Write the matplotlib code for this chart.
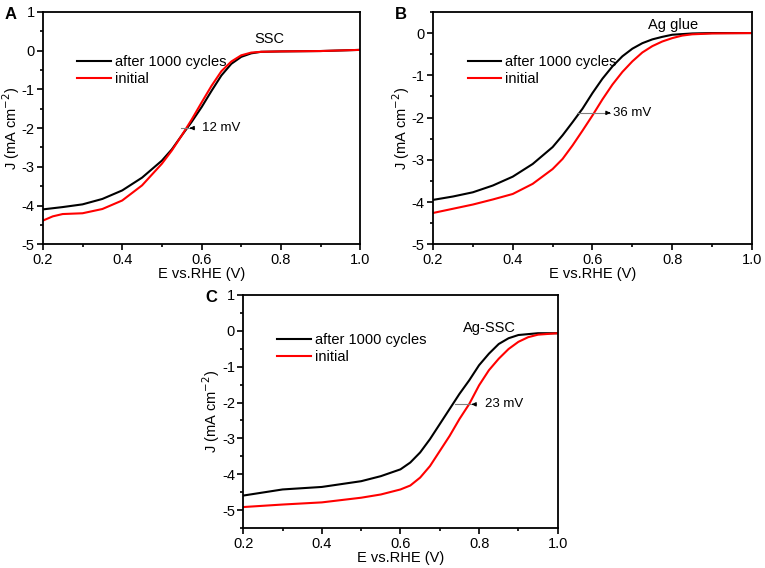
import matplotlib
matplotlib.use("Agg")
import matplotlib.pyplot as plt
import numpy as np
from matplotlib.ticker import MultipleLocator, FormatStrFormatter

plt.rcParams['font.family'] = ['Liberation Sans', 'DejaVu Sans']
plt.rcParams['font.size'] = 10.5
plt.rcParams['axes.unicode_minus'] = False

# panel A (SSC)
xa_after = [0.2, 0.25, 0.3, 0.35, 0.4, 0.45, 0.5, 0.525, 0.55, 0.575, 0.6, 0.625, 0.65, 0.675, 0.7, 0.725, 0.75, 0.8, 0.9, 1.0]
ya_after = [-4.10, -4.04, -3.97, -3.83, -3.61, -3.28, -2.84, -2.55, -2.19, -1.84, -1.46, -1.04, -0.64, -0.34, -0.16, -0.07, -0.03, -0.02, -0.01, 0.02]
xa_init = [0.2, 0.225, 0.25, 0.3, 0.35, 0.4, 0.45, 0.5, 0.525, 0.55, 0.575, 0.6, 0.625, 0.65, 0.675, 0.7, 0.725, 0.75, 0.8, 0.9, 1.0]
ya_init = [-4.39, -4.28, -4.22, -4.20, -4.09, -3.87, -3.48, -2.92, -2.58, -2.19, -1.78, -1.34, -0.91, -0.53, -0.28, -0.12, -0.05, -0.03, -0.02, -0.01, 0.02]

# panel B (Ag glue)
xb_after = [0.2, 0.25, 0.3, 0.35, 0.4, 0.45, 0.5, 0.525, 0.55, 0.575, 0.6, 0.625, 0.65, 0.675, 0.7, 0.725, 0.75, 0.775, 0.8, 0.85, 0.9, 1.0]
yb_after = [-3.95, -3.87, -3.77, -3.61, -3.40, -3.10, -2.70, -2.42, -2.11, -1.79, -1.42, -1.08, -0.79, -0.55, -0.37, -0.24, -0.15, -0.09, -0.04, -0.01, 0.0, 0.0]
xb_init = [0.2, 0.25, 0.3, 0.35, 0.4, 0.45, 0.5, 0.525, 0.55, 0.575, 0.6, 0.625, 0.65, 0.675, 0.7, 0.725, 0.75, 0.775, 0.8, 0.825, 0.85, 0.9, 1.0]
yb_init = [-4.26, -4.16, -4.06, -3.94, -3.81, -3.57, -3.22, -2.98, -2.66, -2.31, -1.95, -1.57, -1.22, -0.92, -0.67, -0.46, -0.31, -0.20, -0.12, -0.06, -0.03, -0.01, 0.0]

# panel C (Ag-SSC)
xc_after = [0.2, 0.3, 0.4, 0.5, 0.55, 0.6, 0.625, 0.65, 0.675, 0.7, 0.725, 0.75, 0.775, 0.8, 0.825, 0.85, 0.875, 0.9, 0.95, 1.0]
yc_after = [-4.59, -4.42, -4.35, -4.19, -4.05, -3.86, -3.67, -3.39, -3.02, -2.60, -2.18, -1.76, -1.38, -0.96, -0.64, -0.37, -0.21, -0.12, -0.07, -0.07]
xc_init = [0.2, 0.3, 0.4, 0.5, 0.55, 0.6, 0.625, 0.65, 0.675, 0.7, 0.725, 0.75, 0.775, 0.8, 0.825, 0.85, 0.875, 0.9, 0.925, 0.95, 1.0]
yc_init = [-4.91, -4.84, -4.78, -4.65, -4.56, -4.42, -4.31, -4.09, -3.77, -3.35, -2.93, -2.46, -2.04, -1.52, -1.10, -0.78, -0.51, -0.31, -0.18, -0.11, -0.07]

panels = [
    dict(label='A', name='SSC', pos=[0.056, 0.570, 0.415, 0.409], ylim=(-5, 1),
         after=(xa_after, ya_after), init=(xa_init, ya_init), legy=0.84,
         arrow=(0.549, 0.582, -2.0, 'left'), mv='12 mV', mvx=0.602, namexy=(0.734, 0.12)),
    dict(label='B', name='Ag glue', pos=[0.566, 0.570, 0.417, 0.409], ylim=(-5, 0.5),
         after=(xb_after, yb_after), init=(xb_init, yb_init), legy=0.84,
         arrow=(0.561, 0.645, -1.89, 'right'), mv='36 mV', mvx=0.651, namexy=(0.74, 0.03)),
    dict(label='C', name='Ag-SSC', pos=[0.318, 0.070, 0.411, 0.411], ylim=(-5.5, 1),
         after=(xc_after, yc_after), init=(xc_init, yc_init), legy=0.862,
         arrow=(0.738, 0.793, -2.05, 'left'), mv='23 mV', mvx=0.815, namexy=(0.76, -0.12)),
]

fig = plt.figure(figsize=(7.65, 5.68), dpi=100)

for p in panels:
    ax = fig.add_axes(p['pos'])
    ax.plot(*p['after'], color='black', lw=1.5, label='after 1000 cycles')
    ax.plot(*p['init'], color='red', lw=1.5, label='initial')
    ax.set_xlim(0.2, 1.0)
    ax.set_ylim(*p['ylim'])
    ax.xaxis.set_major_locator(MultipleLocator(0.2))
    ax.xaxis.set_minor_locator(MultipleLocator(0.1))
    ax.set_yticks(np.arange(-5, p['ylim'][1] + 0.01, 1))
    ax.yaxis.set_minor_locator(MultipleLocator(0.5))
    ax.xaxis.set_major_formatter(FormatStrFormatter('%.1f'))
    ax.yaxis.set_major_formatter(FormatStrFormatter('%d'))
    ax.tick_params(which='both', direction='out', top=False, right=False, width=1.2, pad=2)
    ax.tick_params(which='major', length=4)
    ax.tick_params(which='minor', length=2.5)
    for s in ax.spines.values():
        s.set_linewidth(1.3)
    ax.set_xlabel('E vs.RHE (V)', labelpad=0)
    ax.set_ylabel('J (mA cm$^{-2}$)', labelpad=0)
    ax.legend(loc='upper left', bbox_to_anchor=(0.09, p['legy']), frameon=False,
              handlelength=2.3, handletextpad=0.3, labelspacing=0.2, fontsize=10.5,
              borderaxespad=0)
    ax.text(*p['namexy'], p['name'], ha='left', va='bottom', fontsize=10.5)
    x0, x1, yy, d = p['arrow']
    ax.plot([x0, x1], [yy, yy], color='grey', lw=0.8)
    if d == 'left':
        ax.annotate('', xy=(x1 - 0.012, yy), xytext=(x1, yy),
                    arrowprops=dict(arrowstyle='-|>', color='black', lw=0.8, mutation_scale=6))
    else:
        ax.annotate('', xy=(x1, yy), xytext=(x1 - 0.012, yy),
                    arrowprops=dict(arrowstyle='-|>', color='black', lw=0.8, mutation_scale=6))
    ax.text(p['mvx'], yy, p['mv'], ha='left', va='center', fontsize=9.5)
    fig.text(p['pos'][0] - 0.05, p['pos'][1] + p['pos'][3] - 0.004, p['label'],
             fontsize=12, fontweight='bold', ha='left', va='center')

fig.savefig('out.png', dpi=100)
